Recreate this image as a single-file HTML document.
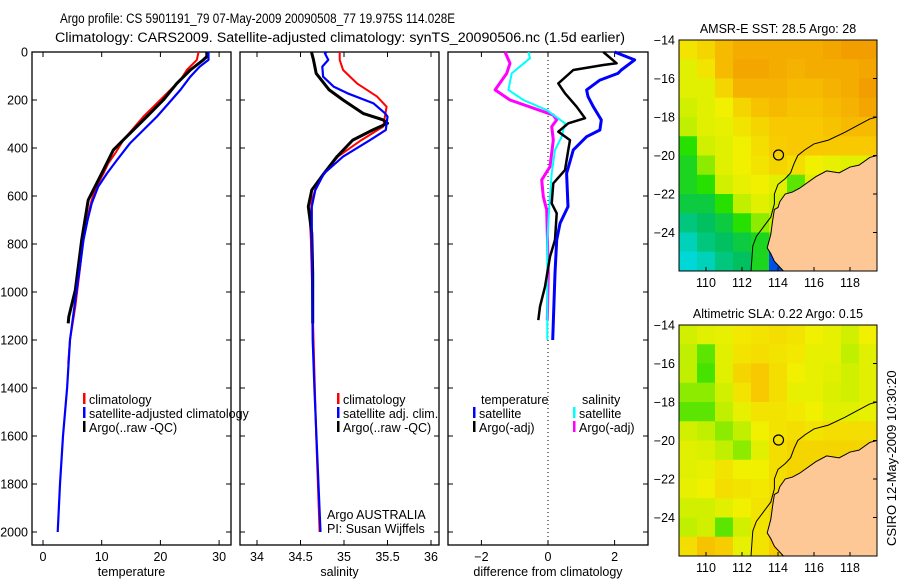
<!DOCTYPE html>
<html><head><meta charset="utf-8">
<style>
html,body{margin:0;padding:0;background:#fff;}
svg{display:block;font-family:"Liberation Sans",sans-serif;}
</style></head>
<body>
<svg id="fig" width="900" height="580" viewBox="0 0 900 580" xmlns="http://www.w3.org/2000/svg">
<rect width="900" height="580" fill="#fff"/>
<text x="60" y="23" font-size="13.5" textLength="395" lengthAdjust="spacingAndGlyphs">Argo profile: CS 5901191_79 07-May-2009 20090508_77 19.975S 114.028E</text>
<text x="55" y="42" font-size="13.5" textLength="570" lengthAdjust="spacingAndGlyphs">Climatology: CARS2009. Satellite-adjusted climatology: synTS_20090506.nc (1.5d earlier)</text>
<g id="plots"></g>
<text x="0" y="0" font-size="13" transform="translate(896,546) rotate(-90)">CSIRO 12-May-2009 10:30:20</text>
</svg>
<script>
// ---- profile data (depth m, value) ----
const depthTicks=[0,200,400,600,800,1000,1200,1400,1600,1800,2000];
const tempTicks=[0,10,20,30];
const salTicks=[34,34.5,35,35.5,36];
const diffTicks=[-2,0,2];
const tClimDepth=[0,33,75,117,172,228,269,318,367,422,464,506,561,617,686,756,839,922,1061,1200,1300];
const tClimVal=[26.5,26.2,24.5,23.4,21.1,18.8,17.1,15.4,13.7,12.3,11.1,10.3,9.1,8.3,7.6,7.0,6.6,6.2,5.5,4.6,4.3];
const tSatDepth=[0,33,61,103,158,214,269,325,381,450,506,561,631,700,783,894,1033,1200,1400,1600,1800,2000];
const tSatVal=[28.2,28.2,26.7,25.1,23.4,21.4,19.4,17.1,14.8,12.6,10.9,9.4,8.3,7.6,6.9,6.3,5.5,4.6,4.1,3.4,2.9,2.5];
const tArgoDepth=[0,19,33,75,131,200,269,339,408,506,617,783,992,1103,1131];
const tArgoVal=[27.9,27.9,27.3,25.1,22.8,20.5,17.7,14.8,12.0,10.0,7.7,6.6,5.5,4.4,4.3];
const sClimDepth=[0,33,75,131,186,228,269,311,367,436,506,575,617,714,783,1200,1600,2000];
const sClimVal=[34.95,34.95,34.99,35.15,35.38,35.49,35.47,35.45,35.20,34.93,34.77,34.67,34.63,34.61,34.62,34.65,34.68,34.72];
const sSatDepth=[0,6,33,61,103,144,172,214,255,269,325,367,436,506,575,644,783,1200,1400,2000];
const sSatVal=[34.80,34.78,34.82,34.75,34.76,34.88,35.04,35.34,35.47,35.50,35.48,35.30,34.99,34.77,34.67,34.63,34.63,34.64,34.66,34.73];
const sArgoDepth=[0,6,33,89,117,158,200,256,283,297,325,367,436,506,575,644,756,922,1131];
const sArgoVal=[34.63,34.63,34.65,34.68,34.74,34.83,34.99,35.22,35.45,35.50,35.33,35.10,34.92,34.77,34.63,34.59,34.63,34.64,34.64];
const dTSatDepth=[0,33,75,89,117,158,186,228,283,325,353,408,506,644,714,783,922,1200];
const dTSatVal=[2.0,2.6,2.2,2.1,1.56,1.16,1.2,1.36,1.6,1.56,1.16,0.76,0.56,0.6,0.36,0.26,0.21,0.14];
const dTArgoDepth=[0,47,54,75,131,172,228,276,297,332,367,408,492,547,631,672,783,853,978,1061,1117];
const dTArgoVal=[1.66,2.06,1.66,0.76,0.31,0.51,0.86,1.11,0.61,0.31,0.66,0.61,0.51,0.16,0.11,0.26,0.21,0.06,-0.09,-0.24,-0.29];
const dSSatDepth=[0,26,89,158,200,242,297,353,408,506,644,783,1200];
const dSSatVal=[-0.59,-0.54,-1.09,-1.19,-0.74,-0.04,0.51,0.41,0.21,0.11,0.04,-0.02,-0.02];
const dSArgoDepth=[0,47,89,158,200,263,283,311,367,478,533,603,658,922,1117];
const dSArgoVal=[-1.29,-1.14,-1.24,-1.59,-1.14,0.16,0.26,0.11,0.16,0.06,-0.19,-0.14,-0.04,0.01,-0.02];
// ---- map data (1-degree cells, rows from 14S to 26S, cols from 108.5E) ----
const mapLonStart=108.5, mapLatStart=-14;
const sstGrid=[
[0.70,0.75,0.85,0.90,0.90,0.90,0.90,0.90,0.92,0.95,0.95],
[0.60,0.70,0.85,0.92,0.92,0.90,0.88,0.90,0.90,0.90,0.92],
[0.60,0.60,0.75,0.88,0.88,0.88,0.85,0.85,0.88,0.90,0.95],
[0.55,0.60,0.65,0.75,0.82,0.85,0.82,0.82,0.85,0.88,0.92],
[0.50,0.60,0.62,0.70,0.75,0.80,0.80,0.80,0.82,0.85,0.85],
[0.35,0.55,0.60,0.65,0.72,0.78,0.80,0.80,0.80,0.80,0.80],
[0.30,0.45,0.60,0.65,0.70,0.75,0.72,0.65,0.62,0.60,0.60],
[0.30,0.35,0.55,0.62,0.65,0.60,0.40,0.60,0.60,0.60,0.60],
[0.25,0.25,0.35,0.50,0.60,0.55,0.40,0.60,0.60,0.60,0.60],
[0.15,0.20,0.25,0.35,0.45,0.50,0.40,0.60,0.60,0.60,0.60],
[0.05,0.15,0.20,0.25,0.30,0.40,0.40,0.60,0.60,0.60,0.60],
[0.00,0.05,0.15,0.20,0.30,-0.2,0.40,0.60,0.60,0.60,0.60]];
const slaGrid=[
[0.55,0.60,0.62,0.68,0.70,0.72,0.70,0.65,0.62,0.55,0.65],
[0.50,0.40,0.60,0.70,0.72,0.70,0.68,0.62,0.62,0.50,0.60],
[0.50,0.38,0.60,0.75,0.80,0.72,0.65,0.62,0.60,0.55,0.60],
[0.45,0.45,0.55,0.70,0.80,0.72,0.62,0.62,0.58,0.55,0.60],
[0.40,0.40,0.50,0.62,0.70,0.70,0.68,0.65,0.60,0.60,0.62],
[0.55,0.50,0.45,0.50,0.65,0.70,0.72,0.70,0.72,0.72,0.72],
[0.60,0.58,0.50,0.45,0.60,0.72,0.75,0.75,0.75,0.75,0.75],
[0.60,0.62,0.70,0.65,0.65,0.72,0.75,0.75,0.75,0.75,0.75],
[0.62,0.65,0.72,0.70,0.68,0.72,0.75,0.75,0.75,0.75,0.75],
[0.55,0.55,0.60,0.65,0.70,0.75,0.75,0.75,0.75,0.75,0.75],
[0.50,0.55,0.40,0.55,0.70,0.75,0.75,0.75,0.75,0.75,0.75],
[0.72,0.82,0.78,0.62,0.70,0.78,0.78,0.75,0.75,0.75,0.75]];
const landLon=[119.5,119.1,118.5,118.0,117.4,116.7,116.1,115.5,115.2,114.8,114.4,114.1,114.0,113.8,113.7,113.6,113.4,113.6,113.8,114.3,119.5];
const landLat=[-20.0,-20.1,-20.5,-20.6,-20.9,-20.8,-21.1,-21.5,-21.7,-21.9,-22.0,-22.4,-22.7,-22.8,-23.4,-24.1,-24.8,-25.1,-25.5,-26.0,-26.0];
const isoLon=[119.5,119.1,118.5,117.7,116.8,116.0,115.5,115.1,114.9,114.7,114.4,114.0,113.8,113.8,113.6,113.2,112.8,112.6,112.5];
const isoLat=[-18.0,-18.1,-18.4,-18.8,-19.2,-19.4,-19.7,-20.0,-20.4,-20.9,-21.2,-21.5,-22.0,-22.5,-23.2,-23.7,-24.2,-24.7,-26.0];
const lonTicks=[110,112,114,116,118];
const latTicks=[-14,-16,-18,-20,-22,-24];
const floatLon=114.028, floatLat=-19.975;

const NS='http://www.w3.org/2000/svg';
const root=document.getElementById('plots');
function mk(tag,attrs,parent){const e=document.createElementNS(NS,tag);for(const k in attrs)e.setAttribute(k,attrs[k]);(parent||root).appendChild(e);return e;}
const PT=52, PB=545, depthScale=0.24;
const yD=d=>PT+d*depthScale;

function panel(name,x0,x1,vmin,vmax,ticks,label,showDepth,fmt){
  const g=mk('g',{});
  
  
  const sx=v=>x0+(v-vmin)/(vmax-vmin)*(x1-x0);
  const r=mk('rect',{x:x0,y:PT,width:x1-x0,height:PB-PT,fill:'none',stroke:'#000','stroke-width':1.3},g);
  
  
  depthTicks.forEach(d=>{
    mk('line',{x1:x0,x2:x0+5,y1:yD(d),y2:yD(d),stroke:'#000'},g);
    mk('line',{x1:x1,x2:x1-5,y1:yD(d),y2:yD(d),stroke:'#000'},g);
    if(showDepth){const t=mk('text',{x:x0-4,y:yD(d)+4.5,'font-size':12.5,'text-anchor':'end'},g);t.textContent=d;
      
      }
  });
  ticks.forEach(v=>{
    mk('line',{x1:sx(v),x2:sx(v),y1:PB,y2:PB-5,stroke:'#000'},g);
    mk('line',{x1:sx(v),x2:sx(v),y1:PT,y2:PT+5,stroke:'#000'},g);
    const t=mk('text',{x:sx(v),y:PB+16,'font-size':12.5,'text-anchor':'middle'},g);t.textContent=fmt?fmt(v):v;
    
    
  });
  const t=mk('text',{x:(x0+x1)/2,y:PB+31,'font-size':12.5,'text-anchor':'middle'},g);t.textContent=label;
  
  
  return {g,sx};
}
function series(p,name,ds,vs,color,w){
  const pts=ds.map((d,i)=>p.sx(vs[i]).toFixed(1)+','+yD(d).toFixed(1)).join(' ');
  const l=mk('polyline',{points:pts,fill:'none',stroke:color,'stroke-width':w,'stroke-linejoin':'round'},p.g);
  
  
}
function legend(g,x,y,color,text,name){
  mk('rect',{x:x,y:y-11,width:2.5,height:11,fill:color},g);
  const t=mk('text',{x:x+6,y:y,'font-size':12.5},g);t.textContent=text;
  
  
}

const p1=panel('temperature-panel',32,231,-(43-32)/5.87,(231-43)/5.87,tempTicks,'temperature',true);
series(p1,'temp-climatology-line',tClimDepth,tClimVal,'#f00',2);
series(p1,'temp-argo-line',tArgoDepth,tArgoVal,'#000',3);
series(p1,'temp-satellite-line',tSatDepth,tSatVal,'#00f',2.2);
legend(p1.g,83,404,'#f00','climatology','legend-climatology');
legend(p1.g,83,418,'#00f','satellite-adjusted climatology','legend-satellite');
legend(p1.g,83,432,'#000','Argo(..raw -QC)','legend-argo');

const p2=panel('salinity-panel',240,439,34-17/87,34+(439-257)/87,salTicks,'salinity',false);
series(p2,'sal-climatology-line',sClimDepth,sClimVal,'#f00',2);
series(p2,'sal-argo-line',sArgoDepth,sArgoVal,'#000',3);
series(p2,'sal-satellite-line',sSatDepth,sSatVal,'#00f',2.2);
legend(p2.g,337,404,'#f00','climatology','legend-climatology');
legend(p2.g,337,418,'#00f','satellite adj. clim.','legend-satellite');
legend(p2.g,337,432,'#000','Argo(..raw -QC)','legend-argo');
[['Argo AUSTRALIA',519],['PI: Susan Wijffels',533]].forEach(([s,y])=>{const t=mk('text',{x:327,y:y,'font-size':12.5},p2.g);t.textContent=s;
  
  });

const p3=panel('difference-panel',448,648,-100/33.3,100/33.3,diffTicks,'difference from climatology',false,v=>v<0?'\u2212'+(-v):v);
mk('line',{x1:p3.sx(0),x2:p3.sx(0),y1:PT,y2:PB,stroke:'#000','stroke-dasharray':'1,3'},p3.g);
series(p3,'diff-sal-argo-line',dSArgoDepth,dSArgoVal,'#f0f',3);
series(p3,'diff-sal-satellite-line',dSSatDepth,dSSatVal,'#0ff',2);
series(p3,'diff-temp-argo-line',dTArgoDepth,dTArgoVal,'#000',2.5);
series(p3,'diff-temp-satellite-line',dTSatDepth,dTSatVal,'#00f',3);
{const t=mk('text',{x:481,y:404,'font-size':12.5},p3.g);t.textContent='temperature';
 
 
 const u=mk('text',{x:582,y:404,'font-size':12.5},p3.g);u.textContent='salinity';
 
 }
legend(p3.g,473,418,'#00f','satellite','legend-temp-satellite');
legend(p3.g,473,432,'#000','Argo(-adj)','legend-temp-argo');
legend(p3.g,573,418,'#0ff','satellite','legend-sal-satellite');
legend(p3.g,573,432,'#f0f','Argo(-adj)','legend-sal-argo');

// ---- maps ----
const cstops=[[-0.2,[0,80,230]],[0,[0,216,216]],[0.2,[0,192,96]],[0.35,[40,224,0]],[0.5,[192,240,0]],[0.65,[240,240,0]],[0.8,[248,200,0]],[1,[240,144,0]]];
function cmap(v){for(let i=1;i<cstops.length;i++){if(v<=cstops[i][0]){const [a,ca]=cstops[i-1],[b,cb]=cstops[i];const f=(v-a)/(b-a);return 'rgb('+ca.map((c,k)=>Math.round(c+(cb[k]-c)*f)).join(',')+')';}}return 'rgb(240,144,0)';}
function map(name,title,grid,x0,y0){
  const x1=877,h=231,lonMin=108.5,lonMax=119.5,latMax=-14,latMin=-26;
  const g=mk('g',{});
  
  
  const sx=lon=>x0+(lon-lonMin)/(lonMax-lonMin)*(x1-x0);
  const sy=lat=>y0+(latMax-lat)/(latMax-latMin)*h;
  grid.forEach((row,r)=>row.forEach((v,c)=>{
    const lon=mapLonStart+c, lat=mapLatStart-r;
    const cell=mk('rect',{x:sx(lon),y:sy(lat),width:sx(lon+1)-sx(lon)+0.5,height:sy(lat-1)-sy(lat)+0.5,fill:cmap(v)},g);
    
    
  }));
  const land=mk('polygon',{points:landLon.map((l,i)=>sx(l)+','+sy(landLat[i])).join(' '),fill:'#fdc896',stroke:'#000','stroke-width':1},g);
  
  
  const iso=mk('polyline',{points:isoLon.map((l,i)=>sx(l)+','+sy(isoLat[i])).join(' '),fill:'none',stroke:'#000','stroke-width':1},g);
  
  
  const c=mk('circle',{cx:sx(floatLon),cy:sy(floatLat),r:5,fill:'none',stroke:'#000','stroke-width':1.2},g);
  
  
  const fr=mk('rect',{x:x0,y:y0,width:x1-x0,height:h,fill:'none',stroke:'#000','stroke-width':1},g);
  
  
  lonTicks.forEach(l=>{mk('line',{x1:sx(l),x2:sx(l),y1:y0+h,y2:y0+h-4,stroke:'#000'},g);
    const t=mk('text',{x:sx(l),y:y0+h+16,'font-size':12.5,'text-anchor':'middle'},g);t.textContent=l;
    
    });
  latTicks.forEach(l=>{mk('line',{x1:x1,x2:x1-4,y1:sy(l),y2:sy(l),stroke:'#000'},g);
    const t=mk('text',{x:x0-4,y:sy(l)+4.5,'font-size':12.5,'text-anchor':'end'},g);t.textContent='\u2212'+(-l);
    
    });
  const t=mk('text',{x:(x0+x1)/2,y:y0-7,'font-size':12.5,'text-anchor':'middle'},g);t.textContent=title;
  
  
}
map('sst-map','AMSR-E SST: 28.5 Argo: 28',sstGrid,679,40);
map('sla-map','Altimetric SLA: 0.22 Argo: 0.15',slaGrid,679,325);
</script>
</body></html>
